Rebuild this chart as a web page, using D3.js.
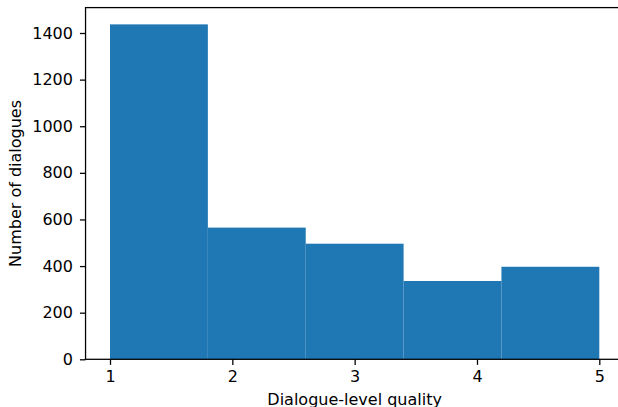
<!DOCTYPE html>
<html>
<head>
<meta charset="utf-8">
<script src="https://cdn.jsdelivr.net/npm/d3@7"></script>
<style>
  html, body { margin: 0; padding: 0; background: #fff; }
  svg { display: block; }
  text { font-family: "DejaVu Sans", sans-serif; }
</style>
</head>
<body>
<svg id="chart" width="618" height="407"></svg>
<script>
// Data
const binEdges = [1, 1.8, 2.6, 3.4, 4.2, 5];
const counts = [1437, 565, 496, 336, 397];
const xTicks = [1, 2, 3, 4, 5];
const yTicks = [0, 200, 400, 600, 800, 1000, 1200, 1400];
const xLabel = "Dialogue-level quality";
const yLabel = "Number of dialogues";

(function () {
const svg = d3.select("#chart");
const mL = 85.54, mR = 623.77, mT = 7.6, mB = 359.3;

const x = d3.scaleLinear().domain([0.8, 5.2]).range([mL, mR]);
const y = d3.scaleLinear().domain([0, 1509]).range([mB, mT]);

const bins = counts.map((c, i) => ({ x0: binEdges[i], x1: binEdges[i + 1], count: c }));

svg.append("g").selectAll("rect").data(bins).join("rect")
  .attr("x", d => x(d.x0))
  .attr("width", d => x(d.x1) - x(d.x0))
  .attr("y", d => y(d.count))
  .attr("height", d => y(0) - y(d.count))
  .attr("fill", "#1f77b4");

// Frame (spines)
svg.append("rect")
  .attr("x", mL).attr("y", mT)
  .attr("width", mR - mL).attr("height", mB - mT)
  .attr("fill", "none").attr("stroke", "#000").attr("stroke-width", 1.28);

const xAxis = svg.append("g").attr("transform", `translate(0,${mB})`)
  .call(d3.axisBottom(x).tickValues(xTicks).tickFormat(d3.format("d")).tickSize(5.6).tickPadding(6));
const yAxis = svg.append("g").attr("transform", `translate(${mL},0)`)
  .call(d3.axisLeft(y).tickValues(yTicks).tickFormat(d3.format("d")).tickSize(5.6).tickPadding(7));

[xAxis, yAxis].forEach(a => {
  a.select(".domain").remove();
  a.selectAll("line").attr("stroke", "#000").attr("stroke-width", 1.28);
  a.selectAll("text").attr("fill", "#000").style("font-size", "16px").style("font-family", "DejaVu Sans");
});

svg.append("text")
  .attr("x", (mL + mR) / 2).attr("y", 404.7)
  .attr("text-anchor", "middle")
  .style("font-size", "16px").attr("fill", "#000")
  .text(xLabel);

svg.append("text")
  .attr("transform", `translate(20.5,${(mT + mB) / 2}) rotate(-90)`)
  .attr("text-anchor", "middle")
  .style("font-size", "16px").attr("fill", "#000")
  .text(yLabel);
})();
</script>
</body>
</html>
